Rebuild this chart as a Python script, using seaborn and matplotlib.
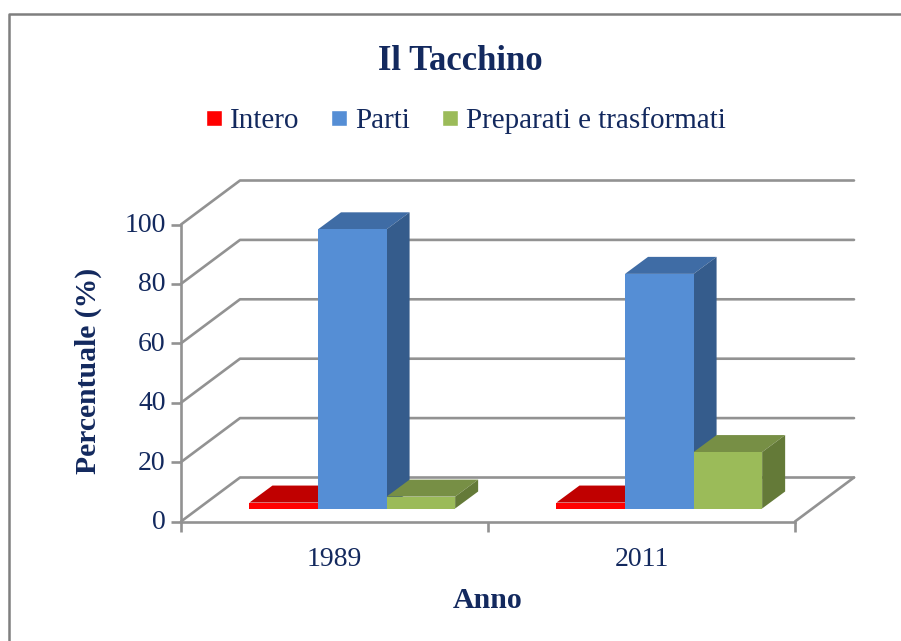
import matplotlib
matplotlib.use("Agg")
import matplotlib.pyplot as plt
import pandas as pd
import seaborn as sns
from matplotlib.lines import Line2D
from matplotlib.patches import Polygon
from matplotlib.transforms import ScaledTranslation

years  = ["1989", "2011"]
series = ["Intero", "Parti", "Preparati e trasformati"]
intero = [2, 2]
parti  = [94, 79]
prep   = [4, 19]
y_ticks = [0, 20, 40, 60, 80, 100]

NAVY = "#13295E"
GREY = "#929292"
FRONT = ["#FF0000", "#558ED5", "#9BBB59"]
TOP   = ["#C00000", "#3F6CA5", "#778F45"]
SIDE  = ["#A00000", "#355C8C", "#647A38"]

W, H = 901, 641

# depth of the fake 3D box and of the bars, in data units
X_UNIT = 307.0   # px per category
Y_UNIT = 2.97    # px per percent
WALL_DX, WALL_DY = 59 / X_UNIT, 44 / Y_UNIT
BAR_DX, BAR_DY   = 23 / X_UNIT, 17 / Y_UNIT
SHIFT_X, BASE_Y  = 17.8 / X_UNIT, 13 / Y_UNIT

sns.set_theme(style="ticks")
plt.rcParams["font.family"] = ["Liberation Serif", "DejaVu Serif"]

df = pd.DataFrame({
    "Anno": years * 3,
    "Tipo": [s for s in series for _ in years],
    "Percentuale": intero + parti + prep,
})

fig = plt.figure(figsize=(W / 100, H / 100), dpi=100, facecolor="white")
ax = fig.add_axes([181 / W, 1 - 521.5 / H, 614 / W, 297 / H])

sns.barplot(
    data=df, x="Anno", y="Percentuale", hue="Tipo",
    order=years, hue_order=series, palette=FRONT,
    width=0.67, gap=0, saturation=1, errorbar=None, ax=ax,
)
ax.set_xlim(-0.5, 1.5)
ax.set_ylim(0, 100)

# back wall and floor
x0, x1 = -0.5, 1.5
for v in y_ticks:
    ax.plot([x0, x0 + WALL_DX, x1 + WALL_DX], [v, v + WALL_DY, v + WALL_DY],
            color=GREY, lw=1.9, clip_on=False, zorder=1)
ax.plot([x1, x1 + WALL_DX], [0, WALL_DY], color=GREY, lw=1.9, clip_on=False, zorder=1)

# move bars into the middle of the box, add top and side faces
for i, cont in enumerate(ax.containers):
    for bar in cont:
        bar.set_x(bar.get_x() + SHIFT_X)
        bar.set_y(bar.get_y() + BASE_Y)
        bar.set_zorder(3 + i * 2)
        bar.set_clip_on(False)
        bar.set_linewidth(0)
        l, r = bar.get_x(), bar.get_x() + bar.get_width()
        b, t = bar.get_y(), bar.get_y() + bar.get_height()
        ax.add_patch(Polygon(
            [(l, t), (r, t), (r + BAR_DX, t + BAR_DY), (l + BAR_DX, t + BAR_DY)],
            facecolor=TOP[i], lw=0, clip_on=False, zorder=2 + i * 2))
        ax.add_patch(Polygon(
            [(r, b), (r + BAR_DX, b + BAR_DY), (r + BAR_DX, t + BAR_DY), (r, t)],
            facecolor=SIDE[i], lw=0, clip_on=False, zorder=2 + i * 2))

sns.despine(ax=ax)
for side in ["left", "bottom"]:
    ax.spines[side].set_color(GREY)
    ax.spines[side].set_linewidth(1.9)

ax.set_yticks(y_ticks)
ax.set_xticks([-0.5, 0.5, 1.5], labels=[])
ax.set_xticks([0, 1], labels=years, minor=True)
ax.tick_params(axis="y", length=7, width=1.9, color=GREY, labelcolor=NAVY,
               labelsize=20, pad=4)
ax.tick_params(axis="x", which="major", length=7, width=1.9, color=GREY)
ax.tick_params(axis="x", which="minor", length=0, labelcolor=NAVY, labelsize=20, pad=18)

# y labels sit slightly above their ticks in the original
lift = ScaledTranslation(0, 2 / 100, fig.dpi_scale_trans)
for lab in ax.get_yticklabels():
    lab.set_transform(lab.get_transform() + lift)

ax.set_xlabel("")
ax.set_ylabel("")
fig.text(460 / W, 1 - 61 / H, "Il Tacchino", color=NAVY, fontsize=25,
         fontweight="bold", ha="center", va="center")
fig.text(88 / W, 1 - 371 / H, "Percentuale (%)", color=NAVY, fontsize=21.3,
         fontweight="bold", rotation=90, ha="center", va="center")
fig.text(487.5 / W, 1 - 600 / H, "Anno", color=NAVY, fontsize=21.5,
         fontweight="bold", ha="center", va="center")

sns.move_legend(
    ax, "center", bbox_to_anchor=(466 / W, 1 - 121 / H),
    bbox_transform=fig.transFigure, ncols=3, title=None, frameon=False,
    fontsize=21, labelcolor=NAVY, handlelength=0.55, handleheight=0.5,
    handletextpad=0.28, columnspacing=1.08, borderpad=0,
)

# chart frame, cut by the right and bottom edge of the image
fig.add_artist(Line2D([9 / W, 9 / W, 1], [0, 1 - 14 / H, 1 - 14 / H],
                      color="#7F7F7F", lw=1.8))

fig.savefig("out.png", dpi=100, facecolor="white")
plt.close(fig)
